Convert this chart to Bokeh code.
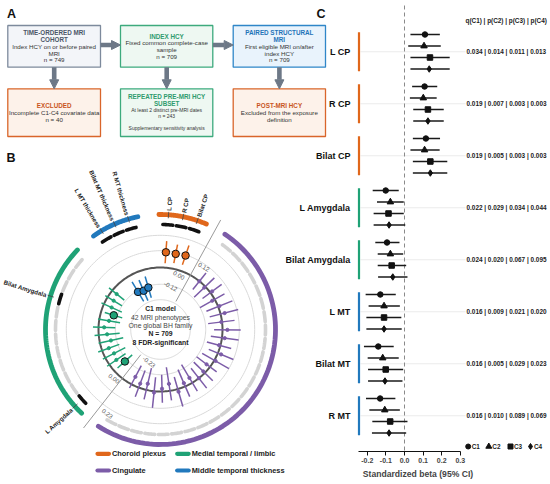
import numpy as np
from bokeh.plotting import figure
from bokeh.models import Range1d, Arrow, NormalHead, FixedTicker, PrintfTickFormatter
from bokeh.layouts import row, column
from bokeh.embed import file_html
from bokeh.resources import INLINE
from bokeh.core.properties import value

S = 1.0
FONT = value("Liberation Sans")


def fs(px):
    return "%.2fpx" % (px * S)


COL = {"cp": "#E0671B", "mtl": "#1FA276", "cing": "#7C5CA8", "mt": "#2179BD"}

# ---------------- data : panel A (flow chart) ----------------
flow_titles = [["TIME-ORDERED MRI", "COHORT"], ["INDEX HCY"], ["PAIRED STRUCTURAL", "MRI"],
               ["EXCLUDED"], ["REPEATED PRE-MRI HCY", "SUBSET"], ["POST-MRI HCY"]]
flow_body = [["Index HCY on or before paired", "MRI", "n = 749"],
             ["Fixed common complete-case", "sample", "n = 709"],
             ["First eligible MRI on/after", "index HCY", "n = 709"],
             ["Incomplete C1-C4 covariate data", "n = 40"],
             ["At least 2 distinct pre-MRI dates", "n = 243", "", "Supplementary sensitivity analysis"],
             ["Excluded from the exposure", "definition"]]
flow_kind = ["cohort", "index", "mri", "excl", "index", "excl"]

# ---------------- data : panel B (C1 model, 42 phenotypes) ----------------
cp_names = ["L CP", "R CP", "Bilat CP"]
cp_beta = [0.110, 0.108, 0.115]
cp_lo = [0.032, 0.041, 0.045]
cp_hi = [0.190, 0.176, 0.191]
cp_sig = [True, True, True]

cing_names = [""] * 24
cing_beta = [0.000, -0.010, 0.015, -0.020, 0.010, 0.030, -0.005, 0.035, 0.020, -0.010, 0.025, 0.010,
             -0.030, -0.015, 0.000, -0.040, -0.025, 0.020, -0.050, -0.020, 0.010, -0.045, -0.030, -0.060]
cing_lo = [-0.075, -0.11, -0.07, -0.12, -0.09, -0.08, -0.10, -0.06, -0.08, -0.10, -0.07, -0.10,
           -0.12, -0.11, -0.09, -0.15, -0.13, -0.09, -0.17, -0.12, -0.10, -0.16, -0.13, -0.15]
cing_hi = [0.075, 0.09, 0.10, 0.08, 0.11, 0.13, 0.09, 0.13, 0.12, 0.08, 0.12, 0.12,
           0.06, 0.08, 0.09, 0.07, 0.08, 0.13, 0.07, 0.08, 0.12, 0.07, 0.07, 0.03]
cing_sig = [False] * 24

mtl_names = ["L Amygdala", "", "", "", "", "", "", "", "Bilat Amygdala", "", "", ""]
mtl_beta = [-0.101, -0.060, -0.070, -0.050, -0.080, -0.060, -0.040, -0.070, -0.094, -0.060, -0.050, -0.040]
mtl_lo = [-0.171, -0.14, -0.16, -0.13, -0.17, -0.15, -0.12, -0.15, -0.157, -0.14, -0.12, -0.11]
mtl_hi = [-0.031, 0.02, 0.02, 0.03, 0.01, 0.03, 0.04, 0.01, -0.027, 0.02, 0.02, 0.03]
mtl_sig = [True, False, False, False, False, False, False, False, True, False, False, False]

mt_names = ["L MT thickness", "Bilat MT thickness", "R MT thickness"]
mt_beta = [-0.130, -0.141, -0.131]
mt_lo = [-0.209, -0.218, -0.207]
mt_hi = [-0.047, -0.058, -0.049]
mt_sig = [True, True, True]

ring_ticks = [-0.23, -0.12, 0.12, 0.23]
upper_ticks = [-0.12, 0.00, 0.12]
lower_ticks = [-0.23, 0.00, 0.23]

legend_names = ["Choroid plexus", "Medial temporal / limbic", "Cingulate", "Middle temporal thickness"]
legend_keys = ["cp", "mtl", "cing", "mt"]

# ---------------- data : panel C (forest) ----------------
forest_labels = ["L CP", "R CP", "Bilat CP", "L Amygdala", "Bilat Amygdala", "L MT", "Bilat MT", "R MT"]
forest_group = ["cp", "cp", "cp", "mtl", "mtl", "mt", "mt", "mt"]
models = ["C1", "C2", "C3", "C4"]
markers = ["circle", "triangle", "square", "diamond"]
msize = [5.5, 6.5, 5.5, 6.5]
beta = {
    "C1": [0.110, 0.108, 0.115, -0.101, -0.094, -0.130, -0.141, -0.131],
    "C2": [0.105, 0.101, 0.108, -0.076, -0.076, -0.110, -0.117, -0.106],
    "C3": [0.137, 0.126, 0.139, -0.086, -0.069, -0.110, -0.101, -0.077],
    "C4": [0.133, 0.126, 0.139, -0.083, -0.063, -0.110, -0.105, -0.083],
}
lo = {
    "C1": [0.032, 0.041, 0.045, -0.171, -0.157, -0.209, -0.218, -0.207],
    "C2": [0.020, 0.029, 0.032, -0.148, -0.144, -0.193, -0.198, -0.189],
    "C3": [0.032, 0.047, 0.045, -0.166, -0.144, -0.205, -0.196, -0.173],
    "C4": [0.032, 0.047, 0.045, -0.166, -0.142, -0.205, -0.196, -0.175],
}
hi = {
    "C1": [0.190, 0.176, 0.191, -0.031, -0.027, -0.047, -0.058, -0.049],
    "C2": [0.195, 0.173, 0.189, -0.004, -0.007, -0.025, -0.031, -0.025],
    "C3": [0.243, 0.211, 0.230, -0.004, 0.009, -0.017, -0.007, 0.016],
    "C4": [0.243, 0.211, 0.230, 0.004, 0.016, -0.015, -0.011, 0.009],
}
pvals = ["0.034 | 0.014 | 0.011 | 0.013", "0.019 | 0.007 | 0.003 | 0.003",
         "0.019 | 0.005 | 0.003 | 0.003", "0.022 | 0.029 | 0.034 | 0.044",
         "0.024 | 0.020 | 0.067 | 0.095", "0.016 | 0.009 | 0.021 | 0.020",
         "0.016 | 0.005 | 0.029 | 0.023", "0.016 | 0.010 | 0.089 | 0.069"]
x_ticks = [-0.2, -0.1, 0.0, 0.1, 0.2, 0.3]


def bare(p):
    p.grid.visible = False
    p.outline_line_color = None
    p.background_fill_color = None
    p.border_fill_color = None
    return p


# ======================= PANEL A =======================
pa = bare(figure(width=330, height=142, x_range=Range1d(0, 330), y_range=Range1d(142, 0),
                 x_axis_location=None, y_axis_location=None, min_border=0,
                 toolbar_location=None, output_backend="svg"))
FILL = {"cohort": "#F3F5F9", "index": "#EEF8F2", "mri": "#E9F3FC", "excl": "#FDF2EA"}
EDGE = {"cohort": "#7D8A9C", "index": "#3DAA7D", "mri": "#2F86C8", "excl": "#D9652A"}
TCOL = {"cohort": "#4B5668", "index": "#2E9B6E", "mri": "#1F74B8", "excl": "#C9551E"}
bl = [7.3, 120.0, 232.7, 7.3, 120.0, 232.7]
br = [100.0, 212.3, 325.0, 100.0, 212.3, 325.0]
bt = [25.0, 25.0, 25.0, 88.3, 88.3, 88.3]
bb = [66.7, 66.7, 66.7, 136.0, 136.0, 136.0]
pa.quad(left=bl, right=br, top=bt, bottom=bb,
        fill_color=[FILL[k] for k in flow_kind], line_color=[EDGE[k] for k in flow_kind], line_width=1.3)
for i in range(6):
    cx = (bl[i] + br[i]) / 2
    cy = (bt[i] + bb[i]) / 2
    small = (i == 4)
    sp = 6.3 if small else 6.8
    lines = flow_titles[i] + flow_body[i]
    n = len(lines)
    ys = [cy + (j - (n - 1) / 2) * sp for j in range(n)]
    nt = len(flow_titles[i])
    pa.text(x=[cx] * nt, y=ys[:nt], text=flow_titles[i], text_align="center", text_baseline="middle",
            text_font=FONT, text_font_style="bold", text_font_size=fs(6.3), text_color=TCOL[flow_kind[i]])
    pa.text(x=[cx] * (n - nt), y=ys[nt:], text=flow_body[i], text_align="center", text_baseline="middle",
            text_font=FONT, text_font_size=fs(5.0 if small else 6.2), text_color="#333333")
ARW = "#6D7887"
for (x0, y0, x1, y1) in [(100.0, 44.5, 120.0, 44.5), (212.3, 44.5, 232.7, 44.5),
                         (53.7, 66.7, 53.7, 88.3), (166.2, 66.7, 166.2, 88.3), (278.9, 66.7, 278.9, 88.3)]:
    pa.add_layout(Arrow(end=NormalHead(size=9, fill_color=ARW, line_color=ARW, line_width=1),
                        x_start=x0, y_start=y0, x_end=x1, y_end=y1, line_color=ARW, line_width=4.6))
pa.text(x=[6.5], y=[13.5], text=["A"], text_align="left", text_baseline="middle", text_font=FONT,
        text_font_style="bold", text_font_size=fs(12.5), text_color="#111111")

# ======================= PANEL B =======================
pb = bare(figure(width=285, height=342, x_range=Range1d(0, 285), y_range=Range1d(484, 142),
                 x_axis_location=None, y_axis_location=None, min_border=0,
                 toolbar_location=None, output_backend="svg"))
CX, CY = 160.0, 329.0
R0, RK = 62.0, 140.0


def rad(b):
    return R0 + RK * np.asarray(b, dtype=float)


def pol(r, deg):
    t = np.deg2rad(deg)
    return CX + r * np.cos(t), CY - r * np.sin(t)


def arcpts(r, a0, a1, n=60):
    a = np.linspace(a0, a1, n)
    x, y = pol(r, a)
    return list(x), list(y)


order = ["cp", "cing", "mtl", "mt"]
G = {
    "cp": (cp_names, cp_beta, cp_lo, cp_hi, cp_sig),
    "cing": (cing_names, cing_beta, cing_lo, cing_hi, cing_sig),
    "mtl": (mtl_names, mtl_beta, mtl_lo, mtl_hi, mtl_sig),
    "mt": (mt_names, mt_beta, mt_lo, mt_hi, mt_sig),
}
STEP = 7.35
GAP = (360.0 - STEP * (42 - 4)) / 4.0
ph = []  # (group, name, beta, lo, hi, sig, angle)
cur = 86.0
gspan = {}
for gi, g in enumerate(order):
    if gi > 0:
        cur -= GAP
    names, bvals, lvals, hvals, svals = G[g]
    first = cur
    for i in range(len(bvals)):
        if i > 0:
            cur -= STEP
        ph.append((g, names[i], bvals[i], lvals[i], hvals[i], svals[i], cur))
    gspan[g] = (first, cur)

# rings
for t in ring_ticks:
    xs, ys = arcpts(float(rad(t)), 0, 360, 240)
    pb.line(xs, ys, line_color="#D9D9D9", line_width=1)
xs, ys = arcpts(float(rad(0.0)), 0, 360, 240)
pb.line(xs, ys, line_color="#555555", line_width=2)

# radial axis lines in the gaps
ax_up = (gspan["cp"][1] + gspan["cing"][0]) / 2
ax_lo = (gspan["cing"][1] + gspan["mtl"][0]) / 2
for a in (ax_up, ax_lo):
    x0, y0 = pol(32.0, a)
    x1, y1 = pol(125.0, a)
    pb.segment(x0=[x0], y0=[y0], x1=[x1], y1=[y1], line_color="#9A9A9A", line_width=1)
up_dth = [15.7, 10.1, -6.0]
up_dr = [-1.1, -5.0, -2.9]
lo_dth = [18.3, -5.4, 5.7]
lo_dr = [4.9, 5.9, 5.5]
for ticks, a, dth, dr, rot in [(upper_ticks, ax_up, up_dth, up_dr, ax_up - 90),
                               (lower_ticks, ax_lo, lo_dth, lo_dr, ax_lo + 90)]:
    for t, d1, d2 in zip(ticks, dth, dr):
        x, y = pol(float(rad(t)) + d2, a + d1)
        pb.text(x=[x], y=[y], text=["%.2f" % t], angle=np.deg2rad(rot), text_align="center",
                text_baseline="middle", text_font=FONT, text_font_size=fs(6.2), text_color="#555555")

# spokes
sx, sy, sc = [], [], []
for (g, n, b, l, h, s, a) in ph:
    x0, y0 = pol(float(rad(l)), a)
    x1, y1 = pol(float(rad(h)), a)
    sx.append([x0, x1]); sy.append([y0, y1]); sc.append(COL[g])
pb.multi_line(sx, sy, line_color=sc, line_width=1.5)
px, py, pc_ = [], [], []
qx, qy, qc = [], [], []
for (g, n, b, l, h, s, a) in ph:
    x, y = pol(float(rad(b)), a)
    if s:
        qx.append(x); qy.append(y); qc.append(COL[g])
    else:
        px.append(x); py.append(y); pc_.append(COL[g])
pb.scatter(px, py, size=3.2, fill_color=pc_, line_color=pc_)
pb.scatter(qx, qy, size=7.5, fill_color=qc, line_color="#111111", line_width=1)

# significance marks
mx, my, mc = [], [], []
for (g, n, b, l, h, s, a) in ph:
    xs, ys = arcpts(105.0, a - 2.7, a + 2.7, 8)
    mx.append(xs); my.append(ys)
    mc.append("#111111" if s else "#D3D3D3")
pb.multi_line(mx, my, line_color=mc, line_width=3.6, line_cap="round")

# group arcs
gx, gy, gc = [], [], []
for g in order:
    a0, a1 = gspan[g]
    xs, ys = arcpts(115.0, a1 - 4.8, a0 + 4.8, 80)
    gx.append(xs); gy.append(ys); gc.append(COL[g])
pb.multi_line(gx, gy, line_color=gc, line_width=4.8, line_cap="round")

# phenotype labels
for (g, n, b, l, h, s, a) in ph:
    if not n:
        continue
    x0, y0 = pol(111.5, a)
    x1, y1 = pol(118.0, a)
    pb.segment(x0=[x0], y0=[y0], x1=[x1], y1=[y1], line_color="#444444", line_width=0.8)
    x, y = pol(119.0, a)
    aa = a % 360
    if 90 < aa < 270:
        rot, al = aa - 180, "right"
    else:
        rot, al = aa, "left"
    pb.text(x=[x], y=[y], text=[n], angle=np.deg2rad(rot), text_align=al, text_baseline="middle",
            text_font=FONT, text_font_style="bold", text_font_size=fs(6.2), text_color="#222222")

# centre text
pb.text(x=[CX] * 5, y=[308.3, 316.7, 325.0, 333.3, 341.7],
        text=["C1 model", "42 MRI phenotypes", "One global BH family", "N = 709", "8 FDR-significant"],
        text_align="center", text_baseline="middle", text_font=FONT,
        text_font_style=["bold", "normal", "normal", "bold", "bold"],
        text_font_size=fs(6.8), text_color=["#222222", "#444444", "#444444", "#222222", "#222222"])

# legend
lg_x = [97.0, 176.7, 97.0, 176.7]
lg_y = [453.3, 453.3, 470.0, 470.0]
pb.segment(x0=lg_x, y0=lg_y, x1=[v + 11.5 for v in lg_x], y1=lg_y,
           line_color=[COL[k] for k in legend_keys], line_width=4.2, line_cap="round")
pb.text(x=[v + 14.5 for v in lg_x], y=lg_y, text=legend_names, text_align="left", text_baseline="middle",
        text_font=FONT, text_font_style="bold", text_font_size=fs(7.4), text_color="#222222")
pb.text(x=[6.0], y=[157.5], text=["B"], text_align="left", text_baseline="middle", text_font=FONT,
        text_font_style="bold", text_font_size=fs(12.5), text_color="#111111")

# ======================= PANEL C =======================
BX0, BK = 404.0, 186.0


def bx(px_):
    return (px_ - BX0) / BK


ROW0, ROWH = 34.0, 11.5


def by(px_):
    return (px_ - ROW0) / ROWH


GSTEP = 52.0 / ROWH
pcf = bare(figure(width=265, height=484, x_range=Range1d(bx(285), bx(550)), y_range=Range1d(by(451), by(0)),
                  y_axis_location=None, min_border_left=0, min_border_right=0, min_border_top=0,
                  min_border_bottom=33, toolbar_location=None, output_backend="svg"))
pcf.margin = (0, 0, 0, -45)
centers = [k * GSTEP + 1.5 for k in range(8)]
# light horizontal guides
pcf.segment(x0=[bx(360)] * 8, y0=centers, x1=[bx(465)] * 8, y1=centers, line_color="#EBEBEB", line_width=1)
# zero line
pcf.segment(x0=[0.0], y0=[by(5)], x1=[0.0], y1=[by(451)], line_color="#8A8A8A", line_width=1,
            line_dash="4 3")
# group bars
pcf.segment(x0=[bx(358.5)] * 8, y0=[k * GSTEP - 0.2 for k in range(8)], x1=[bx(358.5)] * 8,
            y1=[k * GSTEP + 3.2 for k in range(8)], line_color=[COL[g] for g in forest_group], line_width=2.2)
for j, m in enumerate(models):
    ys = [k * GSTEP + j for k in range(8)]
    pcf.segment(x0=lo[m], y0=ys, x1=hi[m], y1=ys, line_color="#1A1A1A", line_width=1.3)
    pcf.scatter(beta[m], ys, marker=markers[j], size=msize[j], fill_color="#111111", line_color="#111111")
pcf.text(x=[bx(350)] * 8, y=centers, text=forest_labels, text_align="right", text_baseline="middle",
         text_font=FONT, text_font_style="bold", text_font_size=fs(9), text_color="#111111")
pcf.text(x=[bx(466)] * 8, y=centers, text=pvals, text_align="left", text_baseline="middle",
         text_font=FONT, text_font_style="bold", text_font_size=fs(6.4), text_color="#222222")
pcf.text(x=[bx(465)], y=[by(20)], text=["q(C1) | p(C2) | p(C3) | p(C4)"], text_align="left",
         text_baseline="middle", text_font=FONT, text_font_style="bold", text_font_size=fs(6.4),
         text_color="#222222")
pcf.text(x=[bx(316)], y=[by(13)], text=["C"], text_align="left", text_baseline="middle", text_font=FONT,
         text_font_style="bold", text_font_size=fs(12.5), text_color="#111111")
# bottom key
key_mx = [467.7, 488.3, 510.0, 530.0]
for j in range(4):
    pcf.scatter([bx(key_mx[j])], [by(446)], marker=markers[j], size=msize[j] - 0.5,
                fill_color="#111111", line_color="#111111")
    pcf.text(x=[bx(key_mx[j] + 3.5)], y=[by(446)], text=[models[j]], text_align="left", text_baseline="middle",
             text_font=FONT, text_font_style="bold", text_font_size=fs(6.4), text_color="#222222")
# x axis
ax = pcf.xaxis[0]
ax.ticker = FixedTicker(ticks=x_ticks)
ax.bounds = (-0.25, 0.30)
ax.formatter = PrintfTickFormatter(format="%.1f")
ax.axis_label = "Standardized beta (95% CI)"
ax.axis_label_text_font = "Liberation Sans"
ax.axis_label_text_font_style = "bold"
ax.axis_label_text_font_size = fs(8.6)
ax.axis_label_standoff = 3
ax.major_label_text_font = "Liberation Sans"
ax.major_label_text_font_style = "bold"
ax.major_label_text_font_size = fs(7)
ax.major_label_standoff = 2
ax.major_tick_in = 0
ax.major_tick_out = 4
ax.minor_tick_line_color = None
ax.axis_line_color = "#111111"
ax.major_tick_line_color = "#111111"

layout = row(column(pa, pb), pcf)
open("out.html", "w").write(file_html(layout, INLINE))
